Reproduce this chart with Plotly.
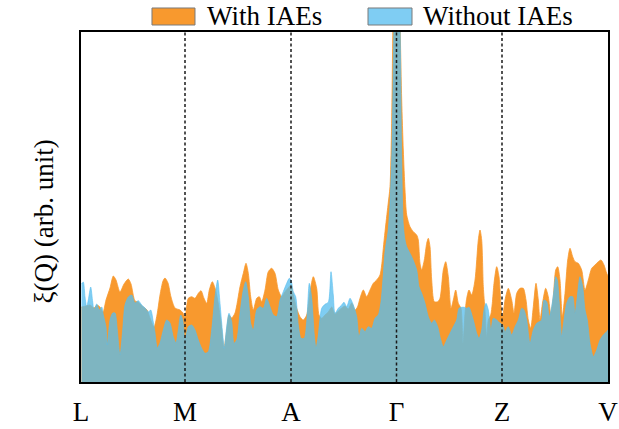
import plotly.graph_objects as go

# high-symmetry path (arbitrary k-path distance units)
high_sym_k = [0, 104, 210, 315.5, 421, 527]
high_sym_labels = ["L", "M", "A", "Γ", "Z", "V"]

# xi(Q) with IAEs (arb. unit)
k_with = [0.5, 5, 9, 13, 16, 19, 22, 25, 29, 32.3, 35, 39, 43, 47.3, 50, 54, 57, 61, 66, 69,
          73, 76, 79, 82, 84, 87, 90, 94, 99, 102,
          104, 107.3, 110.7, 114, 117.3, 120, 123, 125.7, 128.3, 131.3, 134, 136.7, 139.7, 143, 145.7,
          148, 150.7, 154, 159, 162.3, 165, 167.3, 169.7, 172.3, 175.7, 178.3, 180.7, 184, 187.3, 190.7,
          194, 197.3, 200.7, 204, 207.3,
          210, 212.3, 215.7, 219, 222.3, 225.7, 229, 232.3, 235.7, 238, 240.7, 244, 247.3, 250.7, 254,
          257.3, 260.7, 264, 267.3, 270.7, 274, 276.5, 279, 282.3, 285.7, 289, 292.3, 295.7, 299, 300.7,
          302.3, 304, 307, 309, 310.7, 311.7, 313, 315.5, 318, 319.3, 320.7, 322.3, 324, 325.7,
          329, 332.3, 335.7, 337.3, 339, 340.7, 343.3, 345.7, 347.3, 349, 350.7, 353.3, 356.7, 359, 362.3,
          364.7, 367.3, 370, 372.3, 374.7, 377.3, 380, 382, 384, 385.7, 388, 390.7, 394, 397.3, 399,
          400.7, 402.3, 404, 405.7, 407.3, 409.7, 411.3, 413, 415.7, 418, 420.7,
          421.7, 424, 427.3, 430.7, 433, 435.7, 439, 442.3, 445, 447.3, 449.7, 452.3, 455, 457.3, 459,
          461.7, 464.7, 467.3, 469.7, 472.3, 474.7, 476.7, 479, 481.3, 484, 486.7, 489, 491.7, 494, 497.3,
          500.7, 504, 507.3, 510.7, 514, 517.3, 520, 523, 525.7, 527]
i_with = [75, 76, 77, 74, 77, 75, 70, 82, 94, 106, 102, 90, 98, 103, 98, 81, 80, 76, 72, 64,
          55, 67, 87, 101, 104, 99, 85, 74, 72, 69,
          65.3, 83.7, 85.3, 83.7, 88.7, 91.3, 83.7, 78.7, 92, 100.3, 94, 82, 62, 34, 52,
          67, 64, 69, 95.3, 108.7, 118.7, 108.7, 85.3, 72, 83.7, 85.3, 80.3, 92, 110.3, 113.7,
          108.7, 92, 85.3, 90.3, 94,
          97, 87, 73.7, 65.3, 62, 67, 90.3, 105.3, 93.7, 67, 63.7, 67, 70, 75, 68,
          71, 74, 76, 73, 79, 72, 75, 83.7, 92, 85.3, 92, 98.7, 102, 107, 117,
          133.7, 150.3, 177, 195.3, 262, 342, 432, 532, 432, 349, 282, 232, 192, 167,
          155.3, 150.3, 147, 142, 118.7, 112, 122, 138.7, 143.7, 135.3, 102, 80.3, 80.3, 83.7, 112,
          120.3, 105.3, 73.7, 82, 92, 78.7, 73.7, 38.7, 68.7, 83.7, 92, 87, 102, 142, 152,
          142, 95.3, 72, 45.3, 62, 67, 78.7, 98.7, 115.3, 105.3, 68.7,
          65.3, 82, 93.7, 82, 68.7, 88.7, 93.7, 93.7, 82, 62, 53.7, 75.3, 98.7, 82, 62,
          80, 93.7, 85.3, 68.7, 85.3, 112, 115.3, 102, 65.3, 88.7, 122, 133.7, 125.3, 120.3, 118.7,
          112, 92, 102, 113.7, 117, 120.3, 122, 117, 108.7, 106]

# xi(Q) without IAEs (arb. unit)
k_without = [0.5, 2.3, 4, 5.7, 7.3, 9.7, 11.7, 13, 15.7, 18.3, 20.7, 22.3, 25, 26.3, 29, 31.7, 34,
             36.3, 39, 41.7, 44, 47.3, 50.7, 54, 57.3, 60.7, 64, 67.3, 69.7, 72.3, 74, 76.3, 79, 82.3,
             85.7, 89, 92.3, 95, 97.3, 99.7, 101.7,
             104, 107.3, 110.7, 114, 117.3, 120.7, 124, 127.3, 130.7, 134, 136.7, 139, 141.3, 143.3,
             145.7, 148, 150.7, 153, 155.7, 159, 162.3, 164.7, 167.3, 169.7, 172.3, 175.7, 179, 182.3,
             185.7, 189, 192.3, 195.7, 199, 202.3, 205.7, 208.3,
             210, 212.3, 214.7, 217.3, 220, 223.3, 225.7, 228.3, 230.7, 233.3, 235, 237.3, 240.7, 244,
             247.3, 250, 252.3, 254, 257.3, 260.7, 263, 265.7, 269, 272.3, 275.7, 278, 280.7, 284,
             287.3, 290.7, 294, 297.3, 300, 302.3, 304, 307, 309, 311, 312.5, 314, 316, 318, 319.3,
             320.7, 322.3, 324,
             325.7, 330.7, 335.7, 338, 340.7, 344, 347.3, 350.7, 353.3, 356.7, 359, 362.3, 365.7, 369,
             372.3, 375.7, 378, 380.7, 383.3, 385.7, 388, 392.3, 395.7, 398, 400.7, 403, 405, 407.3,
             410, 412.3, 415.7, 419,
             421.7, 424, 427.3, 430.7, 434, 437.3, 440.7, 443, 445.7, 449, 452.3, 455.7, 458.3, 460.7,
             463, 465.7, 468.3, 470.7, 473, 474.7, 476.3, 478.3, 480.7, 483, 485.7, 489, 491.7, 494,
             496.3, 499, 501.7, 504, 506.3, 509, 512.3, 515.7, 519, 522.3, 525.7, 527]
i_without = [98, 100, 85, 75, 82, 95, 80, 72, 78, 72, 75, 67, 55, 37, 62, 69, 69,
             52, 27, 52, 77, 85, 87, 79, 81.3, 77, 74, 70, 72, 60, 49, 34, 39, 52,
             62, 59, 45, 39, 52, 67, 62,
             42, 55.3, 57, 52, 42, 33.7, 28.7, 30.3, 52, 85.3, 102, 78.7, 52, 33.7,
             55.3, 68.7, 60.3, 38.7, 42, 68.7, 92, 100.3, 85.3, 58.7, 52, 72, 75.3, 73.7,
             83.7, 75.3, 67, 65.3, 82, 90.3, 98.7, 103.7,
             102, 90.3, 85.3, 57, 43.7, 43.7, 60.3, 98.7, 83.7, 47, 33.7, 47, 73.7, 77.7,
             79.7, 110.3, 87, 68.7, 73.7, 77, 79.7, 75.3, 83.7, 77, 65.3, 45.3, 53.7, 50.3,
             55.3, 53.7, 63.7, 67, 80.3, 107, 130.3, 150, 178, 235, 330, 432, 532, 432, 342,
             224, 157, 142,
             135.3, 125.3, 112, 95.3, 88.7, 78.7, 65.3, 58.7, 62, 55.3, 45.3, 35.3, 42, 48.7,
             55.3, 62, 73.7, 74.7, 74.7, 73.7, 74.7, 62, 48.7, 43.7, 52, 72, 78.7, 72,
             52, 63.7, 62, 58.7,
             57, 50.3, 55.3, 47, 55.3, 62, 73.7, 72, 62, 38.7, 52, 58.7, 60.3, 62,
             82, 80.3, 65.3, 75.3, 92, 105.3, 102, 78.7, 45.3, 62, 78.7, 85.3, 85.3, 68.7,
             85.3, 105.3, 95.3, 72, 62, 38.7, 25.3, 32, 42, 47, 50.3, 52]

series_names = ["With IAEs", "Without IAEs"]

ORANGE = "rgb(248,153,46)"
BLUE_T = "rgba(89,190,238,0.77)"
BLUE_SWATCH = "rgb(127,205,243)"
FONT = "Liberation Serif"

fig = go.Figure()
fig.add_trace(go.Scatter(
    x=k_with, y=i_with, mode="lines", name=series_names[0],
    line=dict(color=ORANGE, width=0.8, shape="spline", smoothing=0.7),
    fill="tozeroy", fillcolor=ORANGE, showlegend=False, hoverinfo="skip"))
fig.add_trace(go.Scatter(
    x=k_without, y=i_without, mode="lines", name=series_names[1],
    line=dict(color=BLUE_T, width=0.8, shape="spline", smoothing=0.7),
    fill="tozeroy", fillcolor=BLUE_T, showlegend=False, hoverinfo="skip"))

# dashed lines at interior high-symmetry points
for kv in high_sym_k[1:-1]:
    fig.add_shape(type="line", xref="x", yref="paper", x0=kv, x1=kv, y0=0, y1=1,
                  line=dict(color="#1a1a1a", width=1.5, dash="3px,2.5px"), layer="above")

# legend drawn as swatches + text above the plot
legend_items = [(series_names[0], ORANGE, 0.1347, 0.2163, 0.2353),
                (series_names[1], BLUE_SWATCH, 0.5446, 0.6281, 0.6452)]
for name, col, x0, x1, xt in legend_items:
    fig.add_shape(type="rect", xref="paper", yref="paper", x0=x0, x1=x1, y0=1.02, y1=1.0686,
                  fillcolor=col, line=dict(color="#7a7a7a", width=1))
    fig.add_annotation(text=name, xref="paper", yref="paper", x=xt, y=1.046,
                       xanchor="left", yanchor="middle", showarrow=False,
                       font=dict(family=FONT, size=27, color="black"))

fig.add_annotation(text="ξ(Q) (arb. unit)", xref="paper", yref="paper", x=-0.0702, y=0.4586,
                   textangle=-90, xanchor="center", yanchor="middle", showarrow=False,
                   font=dict(family=FONT, size=27, color="black"))

fig.update_layout(
    width=619, height=429,
    margin=dict(l=81, r=11, t=32, b=47, autoexpand=False),
    paper_bgcolor="white", plot_bgcolor="white",
    showlegend=False,
    xaxis=dict(range=[0, 527], tickvals=high_sym_k, ticktext=high_sym_labels,
               showline=True, mirror=True, linecolor="black", linewidth=1.5,
               showgrid=False, zeroline=False, ticks="", ticklabelstandoff=5,
               tickfont=dict(family=FONT, size=27, color="black")),
    yaxis=dict(range=[0, 350], showticklabels=False, showline=True, mirror=True,
               linecolor="black", linewidth=1.5, showgrid=False, zeroline=False, ticks=""),
)

fig.write_html("out.html")
